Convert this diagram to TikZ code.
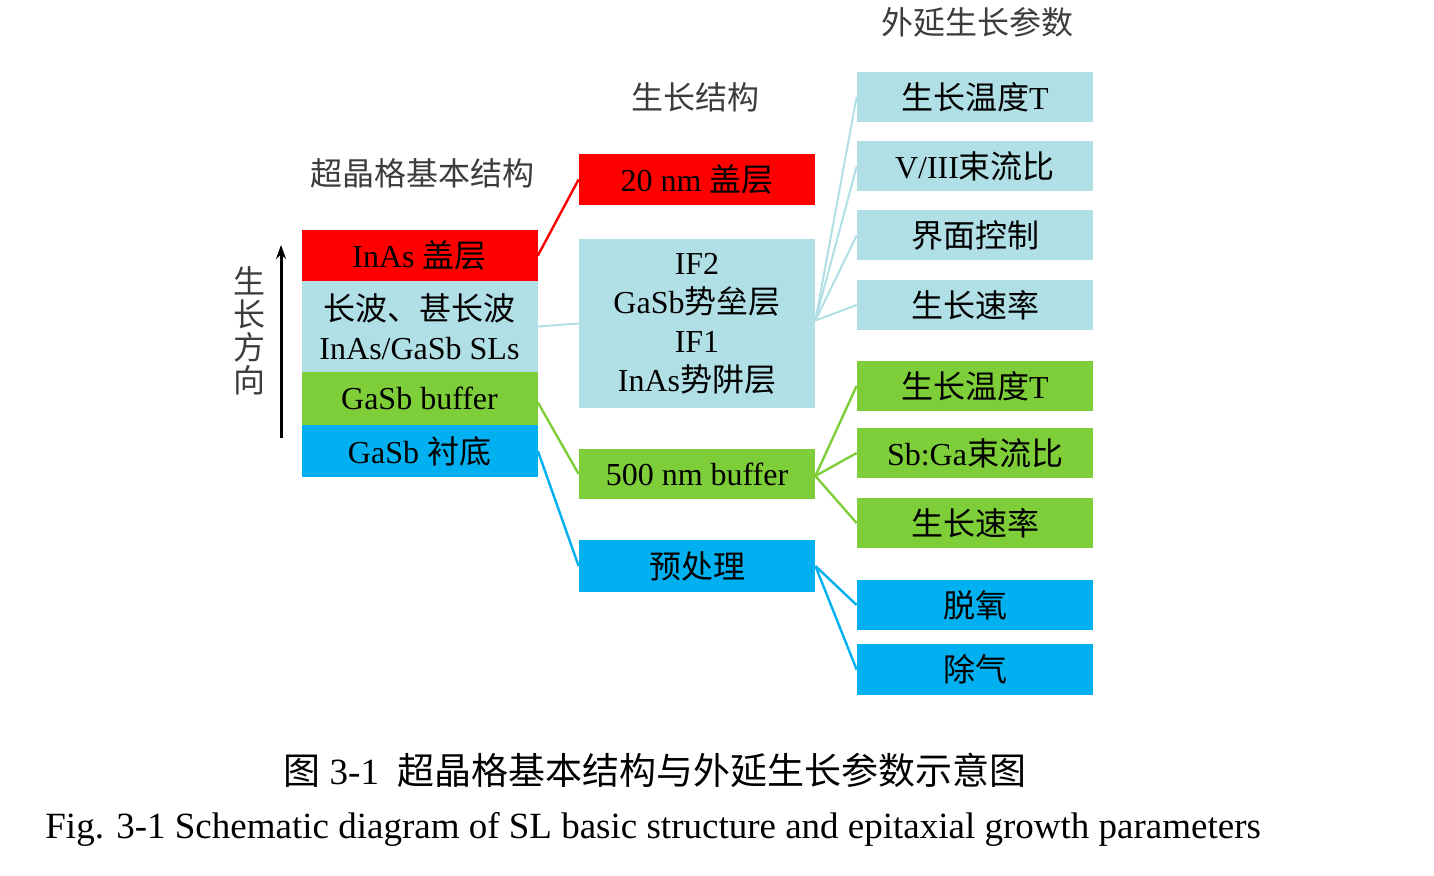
\documentclass[tikz,border=0pt]{standalone}
\usepackage{fontspec}
\setmainfont{Liberation Serif}
\newfontfamily\cjk{Noto Sans CJK SC}
\newcommand{\zh}[1]{{\cjk #1}}
\usetikzlibrary{arrows.meta}
\definecolor{cred}{RGB}{255,0,0}
\definecolor{clb}{RGB}{176,224,230}
\definecolor{cgr}{RGB}{126,206,58}
\definecolor{cbl}{RGB}{0,176,240}
\definecolor{ctitle}{RGB}{60,60,60}
\begin{document}
\begin{tikzpicture}[x=0.5pt,y=-0.5pt,
  box/.style={minimum width=118pt,inner sep=0pt,align=center,
    font=\fontsize{16}{19.5}\selectfont,text=black},
  title/.style={font=\fontsize{16}{19}\selectfont,text=ctitle,inner sep=0pt},
  con/.style={line width=1.2pt},
  lbcon/.style={line width=1pt,draw=clb}]
\useasboundingbox (0,0) rectangle (1434,876);
% titles
\node[title] (t_sl) at (422,173) {\zh{超晶格基本结构}};
\node[title] (t_gs) at (695,97) {\zh{生长结构}};
\node[title] (t_ep) at (977,22) {\zh{外延生长参数}};
\node[title,align=center,font=\fontsize{16}{16.5}\selectfont] (t_dir) at (249,331) {\zh{生}\\\zh{长}\\\zh{方}\\\zh{向}};
% left stack
\node[box,fill=cred,minimum height=25.5pt] (inas) at (419.5,255.5) {InAs \zh{盖层}};
\node[box,fill=clb,minimum height=45.5pt] (lw) at (419.5,326.5) {\zh{长波、甚长波}\\InAs/GaSb SLs};
\node[box,fill=cgr,minimum height=26.5pt] (buf) at (419.5,398.5) {GaSb buffer};
\node[box,fill=cbl,minimum height=26pt] (sub) at (419.5,451) {GaSb \zh{衬底}};
\coordinate (arrS) at (281,438);
\coordinate (arrE) at (281,245);
\draw[line width=1.5pt,-{Stealth[length=7pt,width=5pt]}] (arrS) -- (arrE);
% middle
\node[box,fill=cred,minimum height=25.5pt] (cap) at (697,179.5) {20 nm \zh{盖层}};
\node[box,fill=clb,minimum height=84.5pt] (if) at (697,323.5) {IF2\\GaSb\zh{势垒层}\\IF1\\InAs\zh{势阱层}};
\node[box,fill=cgr,minimum height=25pt] (b500) at (697,474) {500 nm buffer};
\node[box,fill=cbl,minimum height=26pt] (pre) at (697,566) {\zh{预处理}};
% right
\node[box,fill=clb,minimum height=25pt] (r1) at (975,97) {\zh{生长温度}T};
\node[box,fill=clb,minimum height=25pt] (r2) at (975,166.5) {V/III\zh{束流比}};
\node[box,fill=clb,minimum height=25pt] (r3) at (975,235.5) {\zh{界面控制}};
\node[box,fill=clb,minimum height=25pt] (r4) at (975,305) {\zh{生长速率}};
\node[box,fill=cgr,minimum height=25pt] (g1) at (975,386) {\zh{生长温度}T};
\node[box,fill=cgr,minimum height=25pt] (g2) at (975,453) {Sb:Ga\zh{束流比}};
\node[box,fill=cgr,minimum height=25pt] (g3) at (975,523) {\zh{生长速率}};
\node[box,fill=cbl,minimum height=25pt] (c1) at (975,605) {\zh{脱氧}};
\node[box,fill=cbl,minimum height=25.5pt] (c2) at (975,669.5) {\zh{除气}};
% connectors
\draw[con,cred] (inas.east) -- (cap.west);
\draw[lbcon] (lw.east) -- (if.west);
\foreach \r in {r1,r2,r3,r4} \draw[lbcon] ([yshift=1.5pt]if.east) -- (\r.west);
\draw[con,cgr] ([yshift=-2pt]buf.east) -- (b500.west);
\foreach \r in {g1,g2,g3} \draw[con,cgr] ([yshift=-1pt]b500.east) -- (\r.west);
\draw[con,cbl] (sub.east) -- (pre.west);
\foreach \r in {c1,c2} \draw[con,cbl] (pre.east) -- (\r.west);
% captions
\node[inner sep=0pt,font=\fontsize{18.5}{21}\selectfont] (cz) at (655,770) {\zh{图} 3-1\ \ \zh{超晶格基本结构与外延生长参数示意图}};
\node[inner sep=0pt,anchor=west,font=\fontsize{18.5}{21}\selectfont] (ce) at (45,829) {Fig. 3-1 Schematic diagram of SL basic structure and epitaxial growth parameters};
\end{tikzpicture}
\end{document}
